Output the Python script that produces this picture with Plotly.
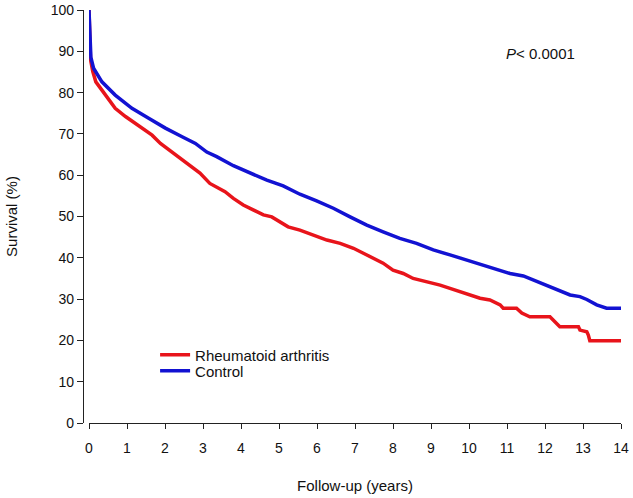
import plotly.graph_objects as go

# Kaplan-Meier survival curves (time in years, survival in %)
ra_time = [0, 0.02, 0.04, 0.1, 0.18, 0.34, 0.52, 0.69, 0.96, 1.22, 1.48, 1.66, 1.88,
           2.2, 2.5, 2.92, 3.18, 3.36, 3.58, 3.8, 4.06, 4.32, 4.59, 4.81, 5.03, 5.24,
           5.55, 5.9, 6.26, 6.61, 6.96, 7.22, 7.48, 7.74, 8.0, 8.27, 8.53, 8.89, 9.24,
           9.5, 9.76, 10.03, 10.29, 10.55, 10.82, 10.9, 11.25, 11.39, 11.6, 12.13, 12.39,
           12.88, 12.92, 13.1, 13.14, 13.18, 14.0]
ra_surv = [100, 92, 88, 85.1, 82.6, 80.6, 78.2, 76.2, 74.2, 72.6, 70.9, 69.7, 67.7,
           65.5, 63.5, 60.5, 58.0, 57.1, 56.0, 54.4, 52.8, 51.6, 50.4, 49.9, 48.7, 47.5,
           46.7, 45.5, 44.3, 43.5, 42.3, 41.1, 39.9, 38.7, 37.0, 36.2, 35.0, 34.2, 33.4,
           32.6, 31.8, 31.0, 30.2, 29.8, 28.6, 27.8, 27.8, 26.6, 25.7, 25.7, 23.3,
           23.3, 22.5, 22.1, 21.3, 19.9, 19.9]

ctrl_time = [0, 0.02, 0.05, 0.12, 0.34, 0.69, 1.13, 1.57, 2.01, 2.45, 2.8, 3.1, 3.36,
             3.8, 4.24, 4.68, 5.11, 5.55, 5.99, 6.43, 6.87, 7.31, 7.74, 8.18, 8.62, 9.06,
             9.5, 9.94, 10.38, 10.82, 11.08, 11.43, 11.69, 12.04, 12.31, 12.66, 12.92,
             13.1, 13.36, 13.62, 14.0]
ctrl_surv = [100, 92, 88.5, 85.9, 82.6, 79.4, 76.2, 73.8, 71.4, 69.3, 67.7, 65.6, 64.5,
             62.3, 60.6, 58.8, 57.4, 55.4, 53.8, 52.0, 49.9, 47.9, 46.3, 44.7, 43.5, 41.9,
             40.7, 39.5, 38.3, 37.0, 36.2, 35.6, 34.6, 33.4, 32.2, 31.0, 30.6,
             29.9, 28.6, 27.8, 27.8]

x_ticks = list(range(0, 15))
y_ticks = list(range(0, 101, 10))

FONT = "Liberation Sans, Arial, sans-serif"
INK = "#111111"

fig = go.Figure()
fig.add_trace(go.Scatter(x=ra_time, y=ra_surv, mode="lines", name="Rheumatoid arthritis",
                         line=dict(color="#e8141b", width=3.5), legend="legend"))
fig.add_trace(go.Scatter(x=ctrl_time, y=ctrl_surv, mode="lines", name="Control",
                         line=dict(color="#1212d2", width=3.5), legend="legend2"))

fig.add_annotation(x=11.88, y=89.5, xref="x", yref="y", text="<i>P</i>< 0.0001",
                   showarrow=False, font=dict(size=15, color=INK, family=FONT))

legend_common = dict(xanchor="left", yanchor="middle", bgcolor="rgba(0,0,0,0)",
                     font=dict(size=15, family=FONT, color=INK), borderwidth=0)

fig.update_layout(
    width=633, height=498,
    margin=dict(l=83, r=12, t=10, b=75),
    paper_bgcolor="white", plot_bgcolor="white",
    font=dict(family=FONT, color=INK, size=14),
    showlegend=True,
    legend=dict(x=0.134, y=0.1646, **legend_common),
    legend2=dict(x=0.134, y=0.1259, **legend_common),
    xaxis=dict(domain=[6 / 538, 1], range=[0, 14], tickvals=x_ticks,
               ticks="outside", ticklen=5, tickwidth=1.3, tickcolor="#222",
               showline=True, linecolor="#222", linewidth=1.3,
               showgrid=False, zeroline=False, automargin=False,
               ticklabelstandoff=7, ticklabeloverflow="allow",
               title=dict(text="Follow-up (years)", font=dict(size=15), standoff=25),
               tickfont=dict(size=14)),
    yaxis=dict(range=[0, 100], tickvals=y_ticks, anchor="free", position=0,
               ticks="outside", ticklen=6, tickwidth=1.3, tickcolor="#222",
               showline=True, linecolor="#222", linewidth=1.3,
               showgrid=False, zeroline=False, automargin=False,
               ticklabeloverflow="allow",
               title=dict(text="Survival (%)", font=dict(size=15), standoff=28),
               tickfont=dict(size=14)),
)

# remove the browser's default 8px page margin so the figure sits at the window origin
fig.write_html("out.html", config={"displayModeBar": False},
               post_script="document.body.style.margin='0';")
